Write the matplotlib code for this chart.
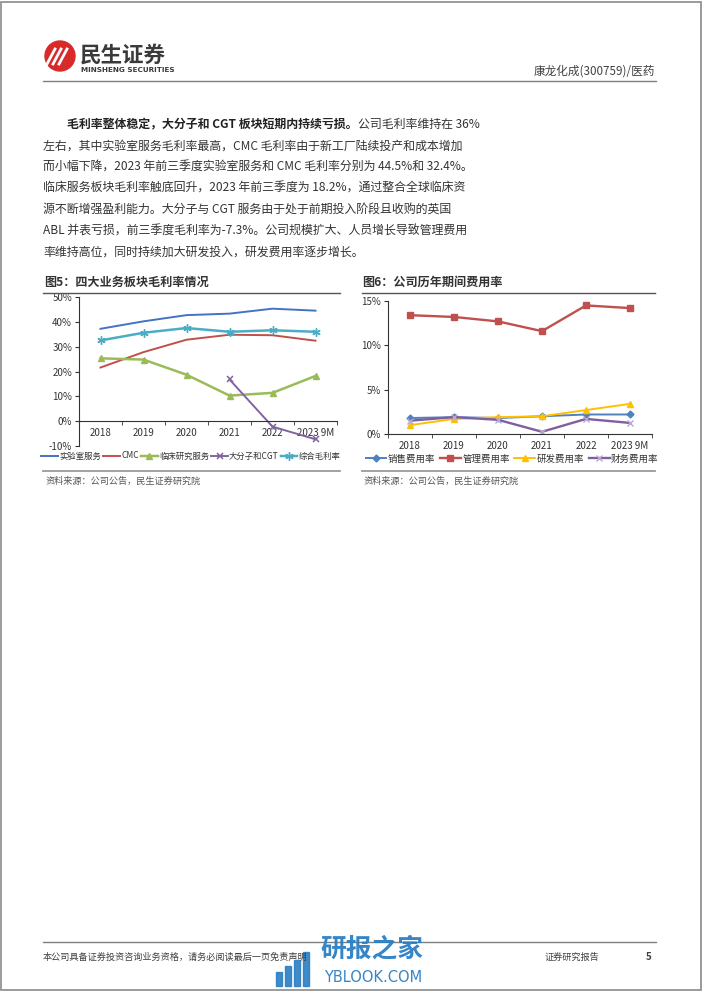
import matplotlib
matplotlib.use("Agg")
import matplotlib.pyplot as plt
import numpy as np
from matplotlib.patches import Ellipse, Rectangle
from matplotlib.lines import Line2D
from matplotlib.text import Annotation

plt.rcParams['font.family'] = ['Noto Sans CJK SC', 'DejaVu Sans']

# ---------------- data ----------------
years = ["2018", "2019", "2020", "2021", "2022", "2023 9M"]

# Fig 5: gross margin by segment (%)
lab_service = [37.2, 40.2, 42.7, 43.3, 45.3, 44.5]
cmc = [21.6, 27.8, 32.8, 34.8, 34.6, 32.4]
clinical = [25.3, 24.8, 18.7, 10.3, 11.4, 18.2]
bio_cgt = [np.nan, np.nan, np.nan, 16.8, -2.2, -7.3]
overall = [32.5, 35.6, 37.5, 36.0, 36.6, 36.0]
fig5_names = ["实验室服务", "CMC", "临床研究服务", "大分子和CGT", "综合毛利率"]
fig5_ticks = [-10, 0, 10, 20, 30, 40, 50]

# Fig 6: expense ratios (%)
selling = [1.8, 1.9, 1.8, 2.0, 2.2, 2.2]
admin = [13.4, 13.2, 12.7, 11.6, 14.5, 14.2]
rnd = [1.0, 1.7, 1.9, 2.0, 2.7, 3.4]
finance = [1.5, 1.9, 1.6, 0.25, 1.7, 1.25]
fig6_names = ["销售费用率", "管理费用率", "研发费用率", "财务费用率"]
fig6_ticks = [0, 5, 10, 15]

W, H = 702, 991
fig = plt.figure(figsize=(W / 100, H / 100), dpi=100)
fig.patch.set_facecolor("white")

def fx(px):
    return px / W

def fy(py):
    return 1 - py / H

# page border
fig.add_artist(Rectangle((0.001, 0.001), 0.997, 0.997, transform=fig.transFigure,
                         fill=False, edgecolor="#8a8a8a", lw=1.2))

# ---------------- header ----------------
fig.add_artist(Ellipse((fx(60), fy(56)), 30 / W, 30 / H, transform=fig.transFigure,
                       color="#d92a2a"))
for dx in (-6, 0, 6):
    fig.add_artist(Line2D([fx(53 + dx), fx(61 + dx)], [fy(64), fy(49)],
                          transform=fig.transFigure, color="white", lw=2.0))
fig.text(fx(80), fy(55), "民生证券", fontsize=15.5, fontweight="bold", color="#3a3a3a",
         va="center", ha="left")
fig.text(fx(81), fy(70), "MINSHENG SECURITIES", fontsize=5.2, fontweight="bold",
         color="#3a3a3a", va="center", ha="left", family="DejaVu Sans")
fig.text(fx(655), fy(71), "康龙化成(300759)/医药", fontsize=8.4, color="#404040",
         va="center", ha="right")
fig.add_artist(Line2D([fx(43), fx(656)], [fy(81), fy(81)], transform=fig.transFigure,
                      color="#7f7f7f", lw=1.0))

# ---------------- paragraph ----------------
body_fs = 8.6
t1 = fig.text(fx(67), fy(128), "毛利率整体稳定，大分子和 CGT 板块短期内持续亏损。",
              fontsize=body_fs, fontweight="bold", color="#222222", va="baseline", ha="left")
fig.add_artist(Annotation("公司毛利率维持在 36%", xy=(1, 0), xycoords=t1,
                          xytext=(0, 0), textcoords="offset points",
                          fontsize=body_fs, color="#333333", va="bottom", ha="left"))
lines = [
    "左右，其中实验室服务毛利率最高，CMC 毛利率由于新工厂陆续投产和成本增加",
    "而小幅下降，2023 年前三季度实验室服务和 CMC 毛利率分别为 44.5%和 32.4%。",
    "临床服务板块毛利率触底回升，2023 年前三季度为 18.2%，通过整合全球临床资",
    "源不断增强盈利能力。大分子与 CGT 服务由于处于前期投入阶段且收购的英国",
    "ABL 并表亏损，前三季度毛利率为-7.3%。公司规模扩大、人员增长导致管理费用",
    "率维持高位，同时持续加大研发投入，研发费用率逐步增长。",
]
for i, ln in enumerate(lines):
    fig.text(fx(43), fy(128 + 21.3 * (i + 1)), ln, fontsize=body_fs, color="#333333",
             va="baseline", ha="left")

# ---------------- figure titles ----------------
fig.text(fx(44), fy(282), "图5：四大业务板块毛利率情况", fontsize=8.7, fontweight="bold",
         color="#333333", va="center", ha="left")
fig.text(fx(362), fy(282), "图6：公司历年期间费用率", fontsize=8.7, fontweight="bold",
         color="#333333", va="center", ha="left")
for x0, x1 in ((43, 340), (362, 655)):
    fig.add_artist(Line2D([fx(x0), fx(x1)], [fy(293), fy(293)], transform=fig.transFigure,
                          color="#555555", lw=1.0))
    fig.add_artist(Line2D([fx(x0), fx(x1)], [fy(471), fy(471)], transform=fig.transFigure,
                          color="#9a9a9a", lw=1.3))
fig.text(fx(46), fy(481), "资料来源：公司公告，民生证券研究院", fontsize=6.6, color="#555555",
         va="center", ha="left")
fig.text(fx(364), fy(481), "资料来源：公司公告，民生证券研究院", fontsize=6.6, color="#555555",
         va="center", ha="left")

x = np.arange(len(years))
tick_fs = 7.0

def style_axes(ax, ymin, ymax, yticks):
    ax.set_xlim(-0.5, len(years) - 0.5)
    ax.set_ylim(ymin, ymax)
    ax.set_yticks(yticks)
    ax.set_yticklabels([f"{v}%" for v in yticks], fontsize=tick_fs, color="#333333")
    ax.set_xticks(x)
    ax.set_xticklabels(years, fontsize=tick_fs, color="#333333")
    ax.tick_params(axis="x", which="major", length=0, pad=5)
    ax.set_xticks(np.arange(-0.5, len(years) + 0.5, 1), minor=True)
    ax.tick_params(axis="x", which="minor", length=3, direction="out", color="#333333")
    ax.tick_params(axis="y", length=3, direction="out", color="#333333", pad=2)
    for s in ("top", "right"):
        ax.spines[s].set_visible(False)
    for s in ("left", "bottom"):
        ax.spines[s].set_color("#333333")
        ax.spines[s].set_linewidth(0.8)
    ax.set_facecolor("none")

# ---------------- Fig 5 ----------------
ax1 = fig.add_axes([fx(79), fy(446), fx(337) - fx(79), fy(297) - fy(446)])
ax1.spines["bottom"].set_position(("data", 0))
lw = 1.4
h1 = ax1.plot(x, lab_service, color="#4472C4", lw=lw, label=fig5_names[0])[0]
h2 = ax1.plot(x, cmc, color="#C0504D", lw=lw, label=fig5_names[1])[0]
h3 = ax1.plot(x, clinical, color="#9BBB59", lw=lw + 0.4, marker="^", ms=5,
              label=fig5_names[2])[0]
h4 = ax1.plot(x, bio_cgt, color="#8064A2", lw=lw, marker="x", ms=5, mew=1.1,
              label=fig5_names[3])[0]
h5 = ax1.plot(x, overall, color="#4BACC6", lw=lw + 0.4, marker=(6, 2, 0), ms=6, mew=1.0,
              label=fig5_names[4])[0]
style_axes(ax1, -10, 50, fig5_ticks)
fig.legend(handles=[h1, h2, h3, h4, h5], loc="center", ncol=5,
           bbox_to_anchor=(fx(191), fy(456)), frameon=False, fontsize=6.0,
           handlelength=2.0, handletextpad=0.15, columnspacing=0.25,
           labelcolor="#333333", borderpad=0, borderaxespad=0)

# ---------------- Fig 6 ----------------
ax2 = fig.add_axes([fx(388), fy(434), fx(652) - fx(388), fy(301) - fy(434)])
g1 = ax2.plot(x, selling, color="#4F81BD", lw=lw, marker="D", ms=3.5, label=fig6_names[0])[0]
g2 = ax2.plot(x, admin, color="#C0504D", lw=lw + 0.3, marker="s", ms=5, label=fig6_names[1])[0]
g3 = ax2.plot(x, rnd, color="#FFC000", lw=lw, marker="^", ms=5, label=fig6_names[2])[0]
g4 = ax2.plot(x, finance, color="#7F5FA0", lw=lw + 0.3, marker="x", ms=5, mew=1.0,
              mec="#B9A8D0", label=fig6_names[3])[0]
style_axes(ax2, 0, 15, fig6_ticks)
fig.legend(handles=[g1, g2, g3, g4], loc="center", ncol=4,
           bbox_to_anchor=(fx(512), fy(459)), frameon=False, fontsize=6.8,
           handlelength=2.2, handletextpad=0.15, columnspacing=0.5,
           labelcolor="#333333", borderpad=0, borderaxespad=0)

# ---------------- footer ----------------
fig.add_artist(Line2D([fx(43), fx(656)], [fy(942), fy(942)], transform=fig.transFigure,
                      color="#7f7f7f", lw=1.0))
fig.text(fx(43), fy(957), "本公司具备证券投资咨询业务资格，请务必阅读最后一页免责声明",
         fontsize=6.6, color="#404040", va="center", ha="left")
fig.text(fx(545), fy(957), "证券研究报告", fontsize=6.6, color="#404040", va="center", ha="left")
fig.text(fx(649), fy(957), "5", fontsize=7, fontweight="bold", color="#404040",
         va="center", ha="center")
# watermark
wm_color = "#2a7fc4"
for i, hgt in enumerate((14, 20, 26, 34)):
    fig.add_artist(Rectangle((fx(276 + i * 9), fy(986)), fx(6), hgt / H,
                             transform=fig.transFigure, color=wm_color, alpha=0.9))
fig.text(fx(320), fy(949), "研报之家", fontsize=18.5, color=wm_color, va="center", ha="left",
         fontweight="bold", alpha=0.95)
fig.text(fx(324), fy(977), "YBLOOK.COM", fontsize=10.5, color=wm_color, va="center",
         ha="left", family="DejaVu Sans", alpha=0.95)

fig.savefig("out.png", dpi=100)
